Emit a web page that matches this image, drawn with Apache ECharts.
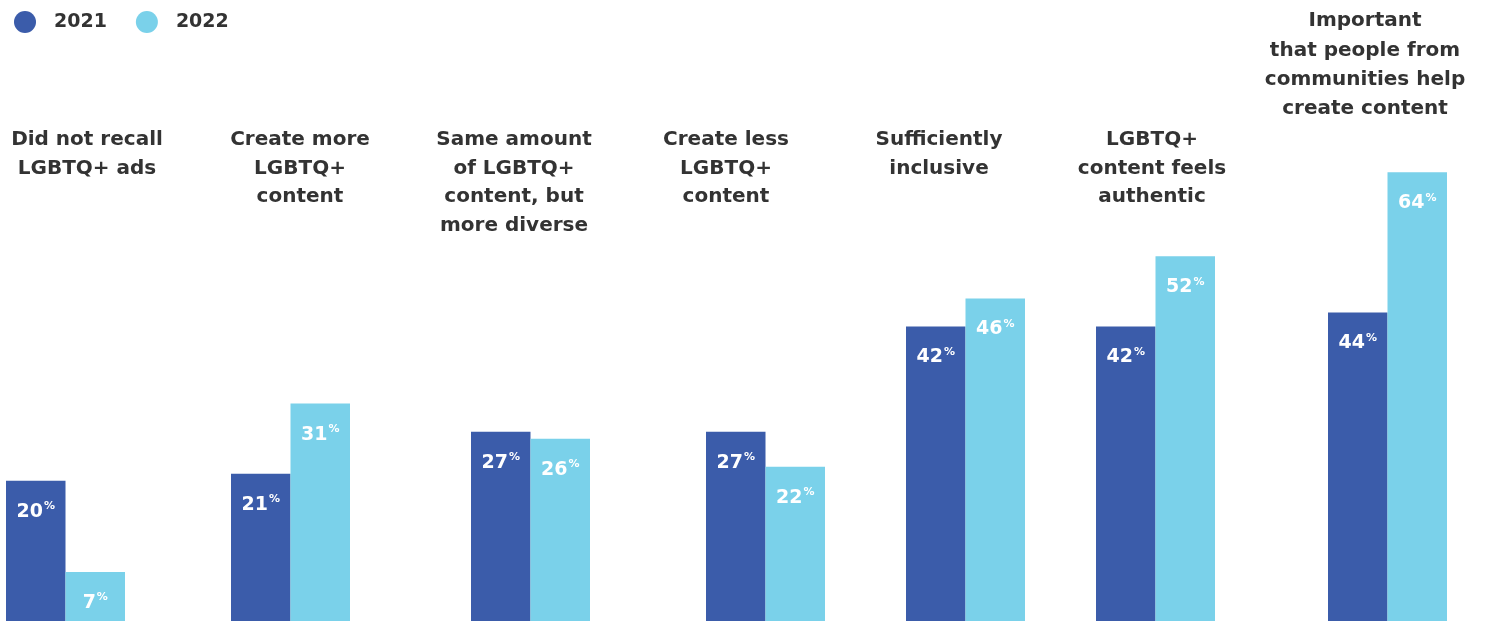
<!DOCTYPE html>
<html>
<head>
<meta charset="utf-8">
<script src="https://cdn.jsdelivr.net/npm/echarts@6/dist/echarts.min.js"></script>
<style>
html,body{margin:0;padding:0;background:#fff;}
#chart{width:1488px;height:621px;}
</style>
</head>
<body>
<div id="chart"></div>
<script>
const categories = [
  "Did not recall\nLGBTQ+ ads",
  "Create more\nLGBTQ+\ncontent",
  "Same amount\nof LGBTQ+\ncontent, but\nmore diverse",
  "Create less\nLGBTQ+\ncontent",
  "Sufficiently\ninclusive",
  "LGBTQ+\ncontent feels\nauthentic",
  "Important\nthat people from\ncommunities help\ncreate content"
];
const values2021 = [20, 21, 27, 27, 42, 42, 44];
const values2022 = [7, 31, 26, 22, 46, 52, 64];
const seriesNames = ["2021", "2022"];

// layout (pixels)
const groupLeft = [6, 231, 471, 706, 906, 1096, 1328];
const labelCenter = [87, 300, 514, 726, 939, 1152, 1365];
const groupWidth = 119;
const colors = ["#3B5CAA", "#7AD1EA"];
const textColor = "#333333";

const chart = echarts.init(document.getElementById('chart'));

const grids = [], xAxes = [], yAxes = [], series = [], graphics = [];
categories.forEach((cat, i) => {
  grids.push({left: groupLeft[i], width: groupWidth, top: 60, bottom: -2, containLabel: false});
  xAxes.push({type: 'category', gridIndex: i, data: [cat], show: false});
  yAxes.push({type: 'value', gridIndex: i, min: 0, max: 80, show: false});
  [values2021, values2022].forEach((vals, s) => {
    series.push({
      name: seriesNames[s],
      type: 'bar',
      xAxisIndex: i,
      yAxisIndex: i,
      data: [vals[i]],
      barGap: '0%',
      barCategoryGap: '0%',
      itemStyle: {color: colors[s]},
      label: {
        show: true,
        position: 'insideTop',
        distance: 20,
        formatter: '{v|{c}}{p|%}',
        rich: {
          v: {fontFamily: 'DejaVu Sans', fontWeight: 'bold', fontSize: 19, color: '#fff', lineHeight: 22},
          p: {fontFamily: 'DejaVu Sans', fontWeight: 'bold', fontSize: 11, color: '#fff', lineHeight: 22, verticalAlign: 'top', padding: [0, 0, 11, 1]}
        }
      },
      emphasis: {disabled: true},
      animation: false
    });
  });
  const last = i === categories.length - 1;
  graphics.push({
    type: 'text',
    x: labelCenter[i],
    y: last ? 6.5 : 126,
    style: {
      text: cat,
      fontFamily: 'DejaVu Sans',
      fontWeight: 'bold',
      fontSize: 20,
      lineHeight: last ? 29.3 : 28.5,
      fill: textColor,
      textAlign: 'center',
      textVerticalAlign: 'top'
    }
  });
});

chart.setOption({
  animation: false,
  color: colors,
  legend: {
    left: 14,
    top: 11,
    padding: 0,
    icon: 'circle',
    itemWidth: 22,
    itemHeight: 22,
    itemGap: 29,
    data: seriesNames,
    textStyle: {fontFamily: 'DejaVu Sans', fontWeight: 'bold', fontSize: 19, color: textColor, padding: [0, 0, 0, 13]}
  },
  grid: grids,
  xAxis: xAxes,
  yAxis: yAxes,
  series: series,
  graphic: graphics
});
</script>
</body>
</html>
